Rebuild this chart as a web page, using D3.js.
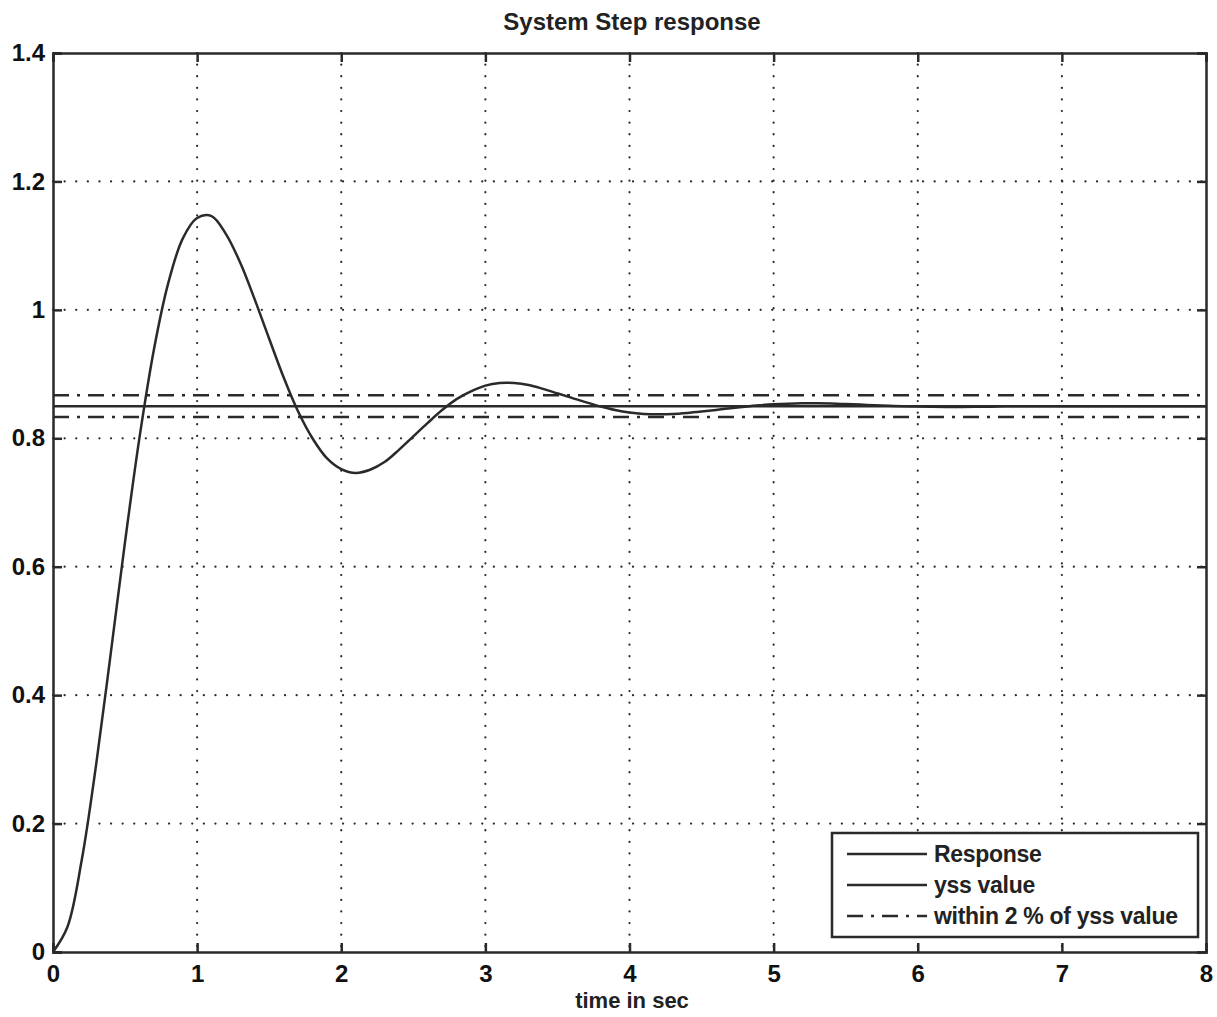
<!DOCTYPE html>
<html>
<head>
<meta charset="utf-8">
<script src="https://cdn.jsdelivr.net/npm/d3@7"></script>
<style>
  body { margin: 0; background: #fff; }
  text { font-family: "Liberation Sans", Arial, sans-serif; fill: #222; }
</style>
</head>
<body>
<div id="chart"></div>
<script>
// step response, every 0.1 s
var times = d3.range(0, 8.01, 0.1).map(function(t){ return +t.toFixed(1) })
var response = [0, 0.039, 0.144, 0.293, 0.464, 0.639, 0.801, 0.938, 1.042, 1.111,
  1.143, 1.146, 1.118, 1.073, 1.016, 0.955, 0.895, 0.842, 0.800, 0.769,
  0.752, 0.746, 0.751, 0.763, 0.782, 0.803, 0.824, 0.844, 0.861, 0.873,
  0.882, 0.886, 0.886, 0.883, 0.877, 0.870, 0.863, 0.856, 0.8495, 0.8440,
  0.8401, 0.8380, 0.8373, 0.8378, 0.8394, 0.8416, 0.8441, 0.8468, 0.8492, 0.8513,
  0.8529, 0.8539, 0.8544, 0.8544, 0.8540, 0.8533, 0.8525, 0.8515, 0.8507, 0.8500,
  0.8494, 0.8490, 0.8488, 0.8488, 0.8490, 0.8493, 0.850, 0.850, 0.850, 0.850,
  0.850, 0.850, 0.850, 0.850, 0.850, 0.850, 0.850, 0.850, 0.850, 0.850, 0.850]
var yss = 0.85
var bandLevels = [0.867, 0.833]   // within 2 %
var xTicks = [0, 1, 2, 3, 4, 5, 6, 7, 8]
var yTicks = [0, 0.2, 0.4, 0.6, 0.8, 1, 1.2, 1.4]
var legendLabels = ["Response", "yss value", "within 2 % of yss value"]

var W = 1217, H = 1017
var margin = {top: 53, right: 11, bottom: 65, left: 53}
var pw = W - margin.left - margin.right
var ph = H - margin.top - margin.bottom
var ink = "#2a2a2a"

var svg = d3.select("#chart").append("svg")
  .attr("width", W)
  .attr("height", H)

var g = svg.append("g").attr("transform", `translate(${margin.left},${margin.top})`)

var x = d3.scaleLinear().domain([0, 8]).range([0, pw])
var y = d3.scaleLinear().domain([0, 1.4]).range([ph, 0])

//dotted grid
g.selectAll(".vgrid").data(xTicks.slice(1, -1)).enter().append("line")
  .attr("x1", d => x(d)).attr("x2", d => x(d))
  .attr("y1", 0).attr("y2", ph)
  .style("stroke", ink).style("stroke-width", 2.2)
  .style("stroke-dasharray", "0.1,11.5").style("stroke-linecap", "round")

g.selectAll(".hgrid").data(yTicks.slice(1, -1)).enter().append("line")
  .attr("x1", 0).attr("x2", pw)
  .attr("y1", d => y(d)).attr("y2", d => y(d))
  .style("stroke", ink).style("stroke-width", 2.2)
  .style("stroke-dasharray", "0.1,11.5").style("stroke-linecap", "round")

//axes with inward ticks on all four sides
var axB = g.append("g").attr("transform", `translate(0,${ph})`)
  .call(d3.axisBottom(x).tickValues(xTicks).tickSize(-9).tickPadding(13).tickFormat(d3.format("d")))
var axT = g.append("g")
  .call(d3.axisTop(x).tickValues(xTicks).tickSize(-9).tickFormat(""))
var axL = g.append("g")
  .call(d3.axisLeft(y).tickValues(yTicks).tickSize(-9).tickPadding(8).tickFormat(d => d === 0 || d === 1 ? d3.format("d")(d) : d3.format(".1f")(d)))
var axR = g.append("g").attr("transform", `translate(${pw},0)`)
  .call(d3.axisRight(y).tickValues(yTicks).tickSize(-9).tickFormat(""))

;[axB, axT, axL, axR].forEach(function(a){
  a.selectAll("path, line").style("stroke", ink).style("stroke-width", 2.5)
  a.selectAll("text").style("font-size", "24px").style("font-weight", "bold").style("fill", "#111")
})

//2 % band
g.selectAll(".band").data(bandLevels).enter().append("line")
  .attr("x1", 0).attr("x2", pw)
  .attr("y1", d => y(d)).attr("y2", d => y(d))
  .style("stroke", ink).style("stroke-width", 2.5)
  .style("stroke-dasharray", "16,8,3,8")

//yss line
g.append("line")
  .attr("x1", 0).attr("x2", pw)
  .attr("y1", y(yss)).attr("y2", y(yss))
  .style("stroke", ink).style("stroke-width", 2.5)

//response
var line = d3.line().curve(d3.curveCatmullRom)
  .x((d, i) => x(times[i])).y(d => y(d))
g.append("path").datum(response)
  .attr("d", line)
  .style("fill", "none").style("stroke", ink).style("stroke-width", 2.5)

//legend
var lg = g.append("g").attr("transform", `translate(${832 - margin.left},${833 - margin.top})`)
lg.append("rect").attr("width", 366).attr("height", 104)
  .style("fill", "#fff").style("stroke", ink).style("stroke-width", 2.5)
var dashes = [null, null, "16,8,3,8"]
legendLabels.forEach(function(lab, i){
  var ly = 21 + i * 31
  lg.append("line").attr("x1", 15).attr("x2", 95).attr("y1", ly).attr("y2", ly)
    .style("stroke", ink).style("stroke-width", 2.5)
    .style("stroke-dasharray", dashes[i])
  lg.append("text").attr("x", 102).attr("y", ly + 8).text(lab)
    .style("font-size", "23px").style("font-weight", "bold").style("letter-spacing", "-0.3px")
})

//title and x label
svg.append("text").attr("x", 632).attr("y", 30).attr("text-anchor", "middle")
  .text("System Step response").style("font-size", "24px").style("font-weight", "bold")
svg.append("text").attr("x", 632).attr("y", 1008).attr("text-anchor", "middle")
  .text("time in sec").style("font-size", "22px").style("font-weight", "bold")
</script>
</body>
</html>
